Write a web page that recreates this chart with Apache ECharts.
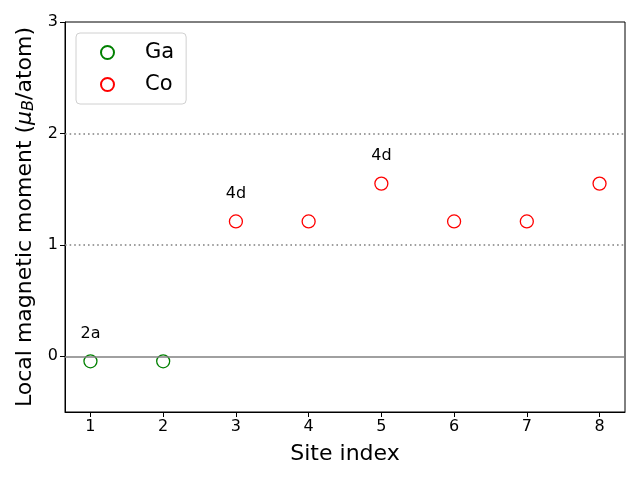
<!DOCTYPE html>
<html><head><meta charset="utf-8">
<script src="https://cdn.jsdelivr.net/npm/echarts@6/dist/echarts.min.js"></script>
<style>html,body{margin:0;padding:0;background:#fff}#c{width:640px;height:480px}</style>
</head><body><div id="c"></div>
<script>
const gaX = [1, 2];
const gaY = [-0.045, -0.045];
const coX = [3, 4, 5, 6, 7, 8];
const coY = [1.21, 1.21, 1.55, 1.21, 1.21, 1.55];
const annX = [1, 3, 5];
const annY = [0.2, 1.46, 1.8];
const annText = ['2a', '4d', '4d'];
const xTicks = [1, 2, 3, 4, 5, 6, 7, 8];
const yTicks = [0, 1, 2, 3];
const refSolid = [0];
const refDotted = [1, 2];

const font = 'DejaVu Sans';
const chart = echarts.init(document.getElementById('c'), null, {renderer: 'canvas'});
const zip = (a, b) => a.map((v, i) => [v, b[i]]);
chart.setOption({
  animation: false,
  backgroundColor: '#fff',
  grid: {left: 65, right: 15, top: 22, bottom: 68, show: true, borderColor: '#000', borderWidth: 1, backgroundColor: 'transparent'},
  legend: {
    data: ['Ga', 'Co'], orient: 'vertical', left: 76, top: 33,
    padding: [9, 12, 9, 24], itemGap: 11, itemWidth: 13, itemHeight: 13,
    borderColor: '#d0d0d0', borderWidth: 1, borderRadius: 4, backgroundColor: 'rgba(255,255,255,0.8)',
    textStyle: {fontFamily: font, fontSize: 21, color: '#000', padding: [0, 0, 0, 26]}
  },
  xAxis: {
    type: 'value', min: 0.65, max: 8.35,
    name: 'Site index', nameLocation: 'middle', nameGap: 31,
    nameTextStyle: {fontFamily: font, fontSize: 22, color: '#000'},
    axisLine: {show: true, onZero: false, lineStyle: {color: '#000', width: 1}},
    axisTick: {show: true, length: 5, lineStyle: {color: '#000'}, customValues: xTicks},
    axisLabel: {fontFamily: font, fontSize: 16, color: '#000', margin: 7, customValues: xTicks},
    splitLine: {show: false}
  },
  yAxis: {
    type: 'value', min: -0.5, max: 3,
    name: '{n|Local magnetic moment (}{it|μ}{sub|B}{n|/atom)}', nameLocation: 'middle', nameGap: 28,
    nameTextStyle: {fontFamily: font, fontSize: 22, color: '#000',
      rich: {n: {fontFamily: font, fontSize: 22, color: '#000'},
             it: {fontFamily: font, fontSize: 22, fontStyle: 'italic', color: '#000'},
             sub: {fontFamily: font, fontSize: 16, fontStyle: 'italic', color: '#000', verticalAlign: 'bottom', padding: [8, 0, 0, 0]}}},
    axisLine: {show: true, onZero: false, lineStyle: {color: '#000', width: 1}},
    axisTick: {show: true, length: 5, lineStyle: {color: '#000'}, customValues: yTicks},
    axisLabel: {fontFamily: font, fontSize: 16, color: '#000', margin: 7, customValues: yTicks},
    splitLine: {show: false}
  },
  series: [
    {
      name: 'Ga', type: 'scatter', data: zip(gaX, gaY), symbol: 'circle', symbolSize: 13,
      itemStyle: {color: '#fff', borderColor: '#008000', borderWidth: 1.3, opacity: 1},
      markLine: {
        silent: true, symbol: 'none', label: {show: false},
        data: refSolid.map(v => ({yAxis: v, lineStyle: {color: '#808080', width: 1.6, type: 'solid'}}))
          .concat(refDotted.map(v => ({yAxis: v, lineStyle: {color: '#808080', width: 1.6, type: [1.6, 3]}})))
      },
      z: 3
    },
    {
      name: 'Co', type: 'scatter', data: zip(coX, coY), symbol: 'circle', symbolSize: 13,
      itemStyle: {color: '#fff', borderColor: '#ff0000', borderWidth: 1.3, opacity: 1}, z: 3
    },
    {
      name: 'ann', type: 'scatter', symbolSize: 0, silent: true,
      itemStyle: {opacity: 1},
      data: annX.map((x, i) => ({value: [x, annY[i]], name: annText[i]})),
      label: {show: true, position: 'inside', formatter: p => p.name, fontFamily: font, fontSize: 16, color: '#000', opacity: 1}
    }
  ]
});
</script></body></html>
